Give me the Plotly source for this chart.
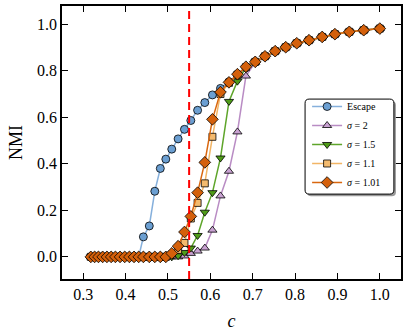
import plotly.graph_objects as go

# x grid (c) shared by every curve
c_vals = [0.318, 0.327, 0.336, 0.346, 0.356, 0.366, 0.376, 0.387, 0.398, 0.409,
          0.420, 0.431, 0.442, 0.456, 0.469, 0.482, 0.495, 0.509, 0.524, 0.539,
          0.554, 0.570, 0.587, 0.605, 0.624, 0.644, 0.664, 0.684, 0.706, 0.729,
          0.753, 0.778, 0.804, 0.833, 0.864, 0.894, 0.928, 0.962, 1.000]

nmi_escape = [0.0, 0.0, 0.0, 0.0, 0.0, 0.0, 0.0, 0.0, 0.0, 0.0,
              0.0, 0.0, 0.086, 0.133, 0.282, 0.380, 0.420, 0.463, 0.507, 0.548,
              0.586, 0.630, 0.663, 0.696, 0.724, 0.752, 0.780, 0.812, 0.838, 0.862,
              0.884, 0.901, 0.918, 0.931, 0.945, 0.957, 0.967, 0.974, 0.981]

nmi_s2 = [0.0, 0.0, 0.0, 0.0, 0.0, 0.0, 0.0, 0.0, 0.0, 0.0,
          0.0, 0.0, 0.0, 0.0, 0.0, 0.0, 0.0, 0.0, 0.0, 0.004,
          0.015, 0.025, 0.038, 0.115, 0.262, 0.368, 0.537, 0.777, 0.836, 0.862,
          0.884, 0.901, 0.918, 0.931, 0.945, 0.957, 0.967, 0.974, 0.981]

nmi_s15 = [0.0, 0.0, 0.0, 0.0, 0.0, 0.0, 0.0, 0.0, 0.0, 0.0,
           0.0, 0.0, 0.0, 0.0, 0.0, 0.0, 0.0, 0.0, 0.005, 0.019,
           0.038, 0.092, 0.192, 0.276, 0.425, 0.668, 0.755, 0.812, 0.838, 0.862,
           0.884, 0.901, 0.918, 0.931, 0.945, 0.957, 0.967, 0.974, 0.981]

nmi_s11 = [0.0, 0.0, 0.0, 0.0, 0.0, 0.0, 0.0, 0.0, 0.0, 0.0,
           0.0, 0.0, 0.0, 0.0, 0.0, 0.0, 0.0, 0.010, 0.030, 0.060,
           0.165, 0.232, 0.316, 0.516, 0.700, 0.748, 0.783, 0.815, 0.838, 0.862,
           0.884, 0.901, 0.918, 0.931, 0.945, 0.957, 0.967, 0.974, 0.981]

nmi_s101 = [0.0, 0.0, 0.0, 0.0, 0.0, 0.0, 0.0, 0.0, 0.0, 0.0,
            0.0, 0.0, 0.0, 0.0, 0.0, 0.0, 0.0, 0.015, 0.046, 0.107,
            0.174, 0.276, 0.406, 0.591, 0.708, 0.750, 0.785, 0.817, 0.838, 0.862,
            0.884, 0.901, 0.918, 0.931, 0.945, 0.957, 0.967, 0.974, 0.981]

c_critical = 0.55

x_ticks = [0.3, 0.4, 0.5, 0.6, 0.7, 0.8, 0.9, 1.0]
y_ticks = [0.0, 0.2, 0.4, 0.6, 0.8, 1.0]

series = [
    ("Escape", nmi_escape, "circle", 8, "#6b9fd2", "#86b0dc"),
    ("<i>σ</i> = 2", nmi_s2, "triangle-up", 8, "#c9a2d2", "#b98cc4"),
    ("<i>σ</i> = 1.5", nmi_s15, "triangle-down", 8, "#4f9c18", "#5ea52a"),
    ("<i>σ</i> = 1.1", nmi_s11, "square", 7, "#f3ba6e", "#f2b565"),
    ("<i>σ</i> = 1.01", nmi_s101, "diamond", 9, "#d4600b", "#d9670f"),
]

font_family = "Liberation Serif"

fig = go.Figure()

for name, yvals, sym, size, fill, line_col in series:
    fig.add_trace(go.Scatter(
        x=c_vals, y=yvals,
        mode="lines+markers",
        name=name,
        line=dict(color=line_col, width=1.5),
        marker=dict(symbol=sym, size=size, color=fill,
                    line=dict(color="black", width=0.8)),
    ))

# red dashed critical line
fig.add_shape(type="line", xref="x", yref="paper",
              x0=c_critical, x1=c_critical, y0=0, y1=1,
              line=dict(color="red", width=2, dash="8px,5px"),
              layer="above")

# rounded legend box with a shadow
def rounded_box(x0, y0, x1, y1, rx, ry):
    return (f"M{x0+rx},{y0} L{x1-rx},{y0} Q{x1},{y0} {x1},{y0+ry} "
            f"L{x1},{y1-ry} Q{x1},{y1} {x1-rx},{y1} L{x0+rx},{y1} "
            f"Q{x0},{y1} {x0},{y1-ry} L{x0},{y0+ry} Q{x0},{y0} {x0+rx},{y0} Z")

bx0, bx1, by0, by1 = 0.717, 0.979, 0.311, 0.659
fig.add_shape(type="path", xref="paper", yref="paper",
              path=rounded_box(bx0 + 0.006, by0 - 0.008, bx1 + 0.006, by1 - 0.008, 0.012, 0.015),
              fillcolor="#999999", line=dict(width=0), layer="above")
fig.add_shape(type="path", xref="paper", yref="paper",
              path=rounded_box(bx0, by0, bx1, by1, 0.012, 0.015),
              fillcolor="white", line=dict(color="black", width=1), layer="above")

fig.update_layout(
    width=415, height=334,
    margin=dict(l=62, r=14, t=6, b=55),
    plot_bgcolor="white", paper_bgcolor="white",
    font=dict(family=font_family, color="black", size=16),
    showlegend=True,
    legend=dict(x=0.723, y=0.685, xanchor="left", yanchor="top",
                bgcolor="rgba(0,0,0,0)", borderwidth=0,
                font=dict(size=10, family=font_family),
                tracegroupgap=0, itemwidth=30),
    xaxis=dict(range=[0.25, 1.05], tickvals=x_ticks, tickformat=".1f",
               ticks="inside", ticklen=6, tickcolor="black", automargin=False,
               showline=True, linecolor="black", linewidth=1.5, mirror="ticks",
               showgrid=False, zeroline=False,
               title=dict(text="<i>c</i>", font=dict(size=18), standoff=12)),
    yaxis=dict(range=[-0.095, 1.078], tickvals=y_ticks, tickformat=".1f",
               ticks="inside", ticklen=6, tickcolor="black", automargin=False,
               showline=True, linecolor="black", linewidth=1.5, mirror="ticks",
               showgrid=False, zeroline=False,
               title=dict(text="NMI", font=dict(size=18), standoff=10)),
)

# drop the default body margin so the figure sits at the window corner
fig.write_html("out.html", config={"displayModeBar": False},
               post_script="document.body.style.margin='0';")
